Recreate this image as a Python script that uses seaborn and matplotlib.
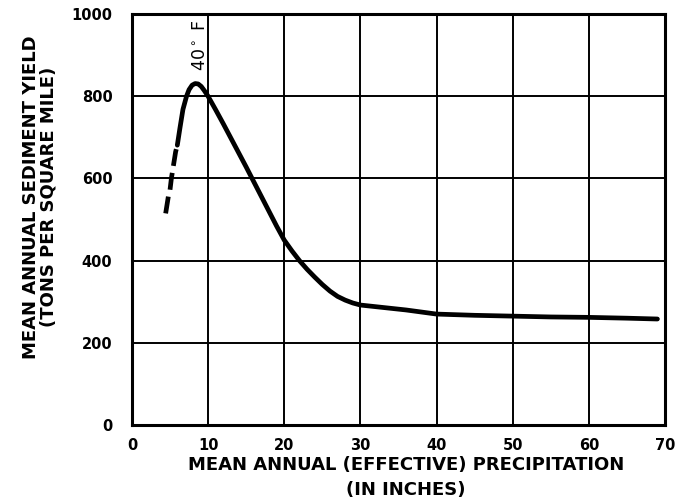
import matplotlib
matplotlib.use("Agg")
import pandas as pd
import matplotlib.pyplot as plt
import seaborn as sns

# values
precip_dashed = [4.43, 4.78, 5.0, 5.18, 5.74, 5.96]
yield_dashed = [515, 556, 572, 600, 665, 681]
precip_solid = [5.96, 6.3, 6.7, 7.17, 7.5, 7.9, 8.3, 8.7, 9.1, 9.5, 10, 11, 12, 13,
                14, 15, 16, 17, 18, 19, 20, 21, 22, 23, 24, 25, 26, 27, 28, 29, 30,
                32, 34, 36, 38, 40, 45, 50, 55, 60, 65, 69]
yield_solid = [681, 722, 768, 800, 816, 827, 831, 830, 824, 814, 800, 767, 733, 698,
               663, 628, 592, 556, 520, 484, 450, 424, 400, 379, 360, 342, 326, 313,
               304, 297, 292, 288, 284, 280, 275, 270, 267, 265, 263, 262, 260, 258]

x_ticks = [0, 10, 20, 30, 40, 50, 60, 70]
y_ticks = [0, 200, 400, 600, 800, 1000]

sns.set_style("white")
plt.rcParams["font.family"] = ["DejaVu Sans"]
plt.rcParams["text.color"] = "black"
plt.rcParams["axes.labelcolor"] = "black"
plt.rcParams["xtick.color"] = "black"
plt.rcParams["ytick.color"] = "black"

fig = plt.figure(figsize=(6.8, 5.03), dpi=100)
ax = fig.add_axes([0.194, 0.155, 0.784, 0.817])

dashed = pd.DataFrame({"precip": precip_dashed, "sediment": yield_dashed})
solid = pd.DataFrame({"precip": precip_solid, "sediment": yield_solid})

sns.lineplot(data=dashed, x="precip", y="sediment", ax=ax, color="black",
             linewidth=3.4, sort=False, dashes=False,
             linestyle=(0, (3.6, 1.5)), dash_capstyle="butt", zorder=5)
sns.lineplot(data=solid, x="precip", y="sediment", ax=ax, color="black",
             linewidth=3.4, sort=False, solid_capstyle="round",
             solid_joinstyle="round", zorder=5)

ax.set_xlim(0, 70)
ax.set_ylim(0, 1000)
ax.set_xticks(x_ticks)
ax.set_yticks(y_ticks)
ax.grid(True, color="black", linewidth=1.4)
for side in ax.spines.values():
    side.set_color("black")
    side.set_linewidth(2.2)

ax.tick_params(axis="y", length=11, width=1.5, pad=3, labelsize=10.5)
ax.tick_params(axis="x", length=0, pad=9, labelsize=10.5)
for lab in ax.get_xticklabels() + ax.get_yticklabels():
    lab.set_fontweight("bold")

ax.set_xlabel("MEAN ANNUAL (EFFECTIVE) PRECIPITATION\n(IN INCHES)",
              fontsize=13, fontweight="bold", linespacing=1.5)
ax.xaxis.set_label_coords(0.514, -0.075)
ax.set_ylabel("MEAN ANNUAL SEDIMENT YIELD\n(TONS PER SQUARE MILE)",
              fontsize=13, fontweight="bold", linespacing=0.95)
ax.yaxis.set_label_coords(-0.14, 0.555)

ax.text(8.9, 986, "40$^\\circ$ F", rotation=90, ha="center", va="top",
        fontsize=12.5)

fig.savefig("out.png", dpi=100, facecolor="white")
